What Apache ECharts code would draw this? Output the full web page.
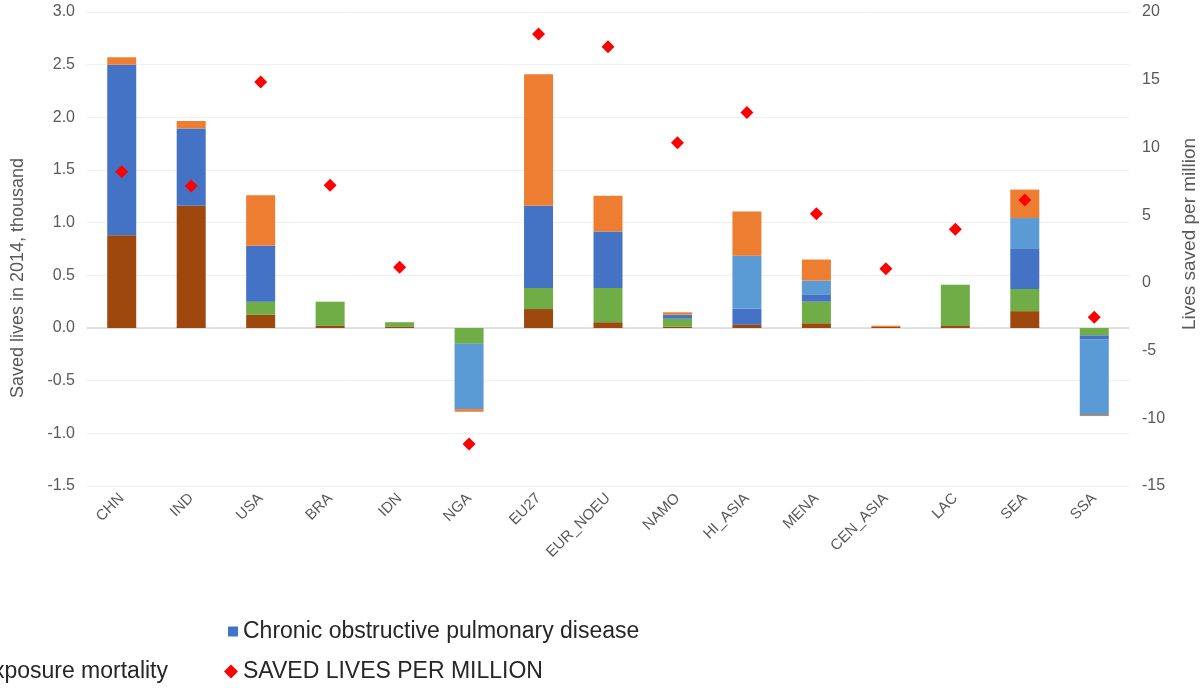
<!DOCTYPE html>
<html>
<head>
<meta charset="utf-8">
<script src="https://cdn.jsdelivr.net/npm/echarts@6/dist/echarts.min.js"></script>
<style>
html,body{margin:0;padding:0;background:#fff;}
#chart{width:1204px;height:688px;}
</style>
</head>
<body>
<div id="chart"></div>
<script>
var categories = ['CHN','IND','USA','BRA','IDN','NGA','EU27','EUR_NOEU','NAMO','HI_ASIA','MENA','CEN_ASIA','LAC','SEA','SSA'];
// thousand saved lives, per cause (stack order bottom to top)
var ischaemic   = [0.88, 1.16, 0.125, 0.02, 0.01, 0,    0.18, 0.055, 0.012, 0.03,  0.045, 0.01,  0.02, 0.16,  0];
var stroke      = [0,    0,    0.125, 0.23, 0.045,-0.15, 0.20, 0.325, 0.076, 0,     0.205, 0,     0.39, 0.21, -0.07];
var copd        = [1.62, 0.735,0.53,  0,    0,    0,    0.78, 0.535, 0.035, 0.155, 0.07,  0,     0,    0.386,-0.04];
var lri         = [0,    0,    0,     0,    0,   -0.62, 0,    0,     0.004, 0.50,  0.13,  0,     0,    0.288,-0.716];
var ozone       = [0.07, 0.07, 0.48,  0,    0,   -0.025,1.25, 0.34,  0.022, 0.42,  0.2,   0.012, 0,    0.27, -0.01];
var perMillion  = [8.21, 7.15, 14.83, 7.2,  1.15,-11.9, 18.38,17.44, 10.35, 12.57, 5.11,  1.05,  3.96, 6.12, -2.54];
var leftTicks   = [-1.5, 3.0, 0.5];
var rightTicks  = [-15, 20, 5];

var names = ['Ischaemic heart disease','Stroke','Chronic obstructive pulmonary disease','Lower respiratory infections','Ozone exposure mortality'];
var colors = ['#9E480E','#70AD47','#4472C4','#5B9BD5','#ED7D31'];
var datasets = [ischaemic, stroke, copd, lri, ozone];

var FONT = "'Liberation Sans', Arial, sans-serif";
var GREY = '#595959';
var LEG = 23;

function textWidth(t, size){
  var c = document.createElement('canvas').getContext('2d');
  c.font = size + "px 'Liberation Sans'";
  return c.measureText(t).width;
}

var series = datasets.map(function(d, i){
  return {
    name: names[i], type: 'bar', stack: 'total', data: d,
    barWidth: 29, itemStyle: {color: colors[i]}, yAxisIndex: 0
  };
});
series.push({
  name: 'SAVED LIVES PER MILLION', type: 'scatter', yAxisIndex: 1,
  data: perMillion, symbol: 'diamond', symbolSize: 13,
  itemStyle: {color: '#FF0000', opacity: 1}
});

var ozoneLeft = 168 - textWidth(names[4], LEG) - 5 - 10;

var chart = echarts.init(document.getElementById('chart'));
chart.setOption({
  animation: false,
  textStyle: {fontFamily: FONT},
  grid: {left: 87, right: 75, top: 12, bottom: 202, containLabel: false},
  legend: [
    {data: [names[2]], left: 228, top: 620, padding: 0, itemWidth: 10, itemHeight: 10,
     icon: 'rect', textStyle: {fontSize: LEG, color: '#262626', fontFamily: FONT}},
    {data: [names[4]], left: ozoneLeft, top: 660, padding: 0, itemWidth: 10, itemHeight: 10,
     icon: 'rect', textStyle: {fontSize: LEG, color: '#262626', fontFamily: FONT}},
    {data: ['SAVED LIVES PER MILLION'], left: 224, top: 660, padding: 0, itemWidth: 14, itemHeight: 14,
     textStyle: {fontSize: LEG, color: '#262626', fontFamily: FONT}}
  ],
  xAxis: {
    type: 'category', data: categories,
    axisLine: {onZero: true, lineStyle: {color: '#D9D9D9', width: 1.5}},
    axisTick: {show: false},
    axisLabel: {interval: 0, rotate: 45, fontSize: 15, color: GREY, margin: 10, fontFamily: FONT},
    splitLine: {show: false}
  },
  yAxis: [
    {type: 'value', min: leftTicks[0], max: leftTicks[1], interval: leftTicks[2],
     axisLine: {show: false}, axisTick: {show: false},
     axisLabel: {fontSize: 16, color: GREY, margin: 12, fontFamily: FONT,
       formatter: function(v){ return v.toFixed(1); }},
     splitLine: {lineStyle: {color: '#EFEFEF', width: 1}}},
    {type: 'value', min: rightTicks[0], max: rightTicks[1], interval: rightTicks[2],
     axisLine: {show: false}, axisTick: {show: false},
     axisLabel: {fontSize: 16, color: GREY, margin: 13, fontFamily: FONT},
     splitLine: {show: false}}
  ],
  graphic: [
    {type: 'text', x: 18, y: 278, rotation: Math.PI/2,
     style: {text: 'Saved lives in 2014, thousand', fontSize: 18, fill: GREY, fontFamily: FONT,
       align: 'center', verticalAlign: 'middle'}},
    {type: 'text', x: 1190, y: 234, rotation: Math.PI/2,
     style: {text: 'Lives saved per million', fontSize: 19, fill: GREY, fontFamily: FONT,
       align: 'center', verticalAlign: 'middle'}}
  ],
  series: series
});
</script>
</body>
</html>
